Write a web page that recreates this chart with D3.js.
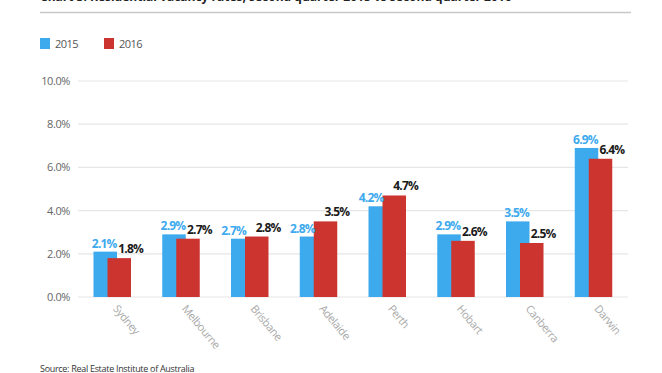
<!DOCTYPE html>
<html>
<head>
<meta charset='utf-8' />
<title>Residential vacancy rates</title>
<script src="https://d3js.org/d3.v7.min.js"></script>
<style>
body { margin: 0; padding: 0; background: #fff; }
#chart { width: 662px; height: 373px; overflow: hidden; }
text { font-family: "Open Sans", sans-serif; }
</style>
</head>
<body>
<div id='chart'></div>
<script>

// data
var cities = ["Sydney", "Melbourne", "Brisbane", "Adelaide", "Perth", "Hobart", "Canberra", "Darwin"];
var rates2015 = [2.1, 2.9, 2.7, 2.8, 4.2, 2.9, 3.5, 6.9];
var rates2016 = [1.8, 2.7, 2.8, 3.5, 4.7, 2.6, 2.5, 6.4];
var yTicks = [0, 2, 4, 6, 8, 10];
var seriesNames = ["2015", "2016"];

var blue = "#3daaee", red = "#cc3430";

var W = 662, H = 373;
var margin = {top: 81, right: 34, bottom: 76, left: 78},
    width = W - margin.left - margin.right,
    height = H - margin.top - margin.bottom;

var svg = d3.select("#chart")
  .append("svg")
    .attr("width", W)
    .attr("height", H);

// title, mostly cut off at the top like the reference
svg.append("text")
    .attr("x", 40)
    .attr("y", 1)
    .style("font-size", "12px")
    .style("font-weight", "bold")
    .style("fill", "#222")
    .text("Chart 3: Residential vacancy rates, second quarter 2015 vs second quarter 2016");

svg.append("line")
    .attr("x1", 40).attr("x2", 631)
    .attr("y1", 12.5).attr("y2", 12.5)
    .style("stroke", "#c8c8c8")
    .style("stroke-width", 1.5);

// legend
var legend = svg.append("g").attr("transform", "translate(40,38)");
seriesNames.forEach(function(name, i) {
  var g = legend.append("g").attr("transform", "translate(" + (i * 64) + ",0)");
  g.append("rect")
    .attr("width", 10).attr("height", 11)
    .style("fill", i == 0 ? blue : red);
  g.append("text")
    .attr("x", 15).attr("y", 10)
    .style("font-size", "11px")
    .style("fill", "#555")
    .style("letter-spacing", "-0.5px")
    .text(name);
});

var chart = svg.append("g")
    .attr("transform", "translate(" + margin.left + "," + margin.top + ")");

var x = d3.scaleBand()
    .domain(cities)
    .range([0, width]);

var y = d3.scaleLinear()
    .domain([0, 10])
    .range([height, 0]);

// grid + y labels
chart.selectAll(".grid")
  .data(yTicks)
  .enter()
  .append("line")
    .attr("x1", 0).attr("x2", width)
    .attr("y1", function(d) { return y(d); })
    .attr("y2", function(d) { return y(d); })
    .style("stroke", "#e6e6e6")
    .style("stroke-width", 1.2);

chart.selectAll(".ylab")
  .data(yTicks)
  .enter()
  .append("text")
    .attr("x", -8)
    .attr("y", function(d) { return y(d) + 4; })
    .attr("text-anchor", "end")
    .style("font-size", "11px")
    .style("fill", "#666")
    .style("letter-spacing", "-0.4px")
    .text(function(d) { return d.toFixed(1) + "%"; });

var barW = 23.5, blueOff = 15.5, redOff = 29.5;

// 2015 bars (behind)
chart.selectAll(".b15")
  .data(cities)
  .enter()
  .append("rect")
    .attr("x", function(d) { return x(d) + blueOff; })
    .attr("y", function(d, i) { return y(rates2015[i]); })
    .attr("width", barW)
    .attr("height", function(d, i) { return height - y(rates2015[i]); })
    .style("fill", blue);

// 2016 bars (in front)
chart.selectAll(".b16")
  .data(cities)
  .enter()
  .append("rect")
    .attr("x", function(d) { return x(d) + redOff; })
    .attr("y", function(d, i) { return y(rates2016[i]); })
    .attr("width", barW)
    .attr("height", function(d, i) { return height - y(rates2016[i]); })
    .style("fill", red);

// value labels: 2015 label moves left of the red bar when the red bar is taller
chart.selectAll(".l15")
  .data(cities)
  .enter()
  .append("text")
    .attr("x", function(d, i) {
      return rates2016[i] > rates2015[i] ? x(d) + redOff + 1 : x(d) + blueOff + barW / 2 - 1;
    })
    .attr("y", function(d, i) { return y(rates2015[i]) - 4; })
    .attr("text-anchor", function(d, i) { return rates2016[i] > rates2015[i] ? "end" : "middle"; })
    .style("font-size", "12px")
    .style("font-weight", "bold")
    .style("letter-spacing", "-0.8px")
    .style("fill", blue)
    .text(function(d, i) { return rates2015[i].toFixed(1) + "%"; });

chart.selectAll(".l16")
  .data(cities)
  .enter()
  .append("text")
    .attr("x", function(d) { return x(d) + redOff + barW / 2 - 1; })
    .attr("y", function(d, i) { return y(rates2016[i]) - 5; })
    .attr("text-anchor", "start")
    .style("font-size", "12px")
    .style("font-weight", "bold")
    .style("letter-spacing", "-0.8px")
    .style("fill", "#1a1a1a")
    .text(function(d, i) { return rates2016[i].toFixed(1) + "%"; });

// rotated city labels
chart.selectAll(".xlab")
  .data(cities)
  .enter()
  .append("text")
    .attr("transform", function(d) {
      return "translate(" + (x(d) + x.bandwidth() / 2) + "," + (height + 12) + ") rotate(50)";
    })
    .attr("text-anchor", "start")
    .style("font-size", "11px")
    .style("fill", "#aaa")
    .style("letter-spacing", "-0.4px")
    .text(function(d) { return d; });

// source line, cut off at bottom
svg.append("text")
    .attr("x", 40)
    .attr("y", 372)
    .style("font-size", "9px")
    .style("fill", "#333")
    .style("letter-spacing", "-0.3px")
    .text("Source: Real Estate Institute of Australia");

</script>
</body>
</html>
